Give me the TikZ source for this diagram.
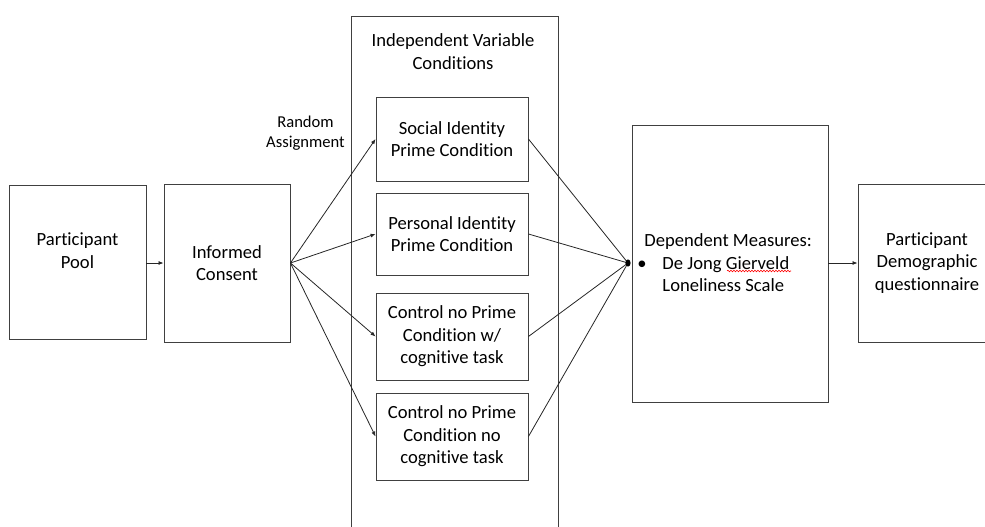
\documentclass[tikz,border=0pt]{standalone}
\usepackage{fontspec}
\setmainfont[Ligatures=NoCommon]{Carlito}
\usetikzlibrary{arrows.meta,decorations.pathmorphing}

\begin{document}
\begin{tikzpicture}[x=1pt,y=-1pt,
  box/.style={draw=black!75,line width=0.9pt,align=center,inner sep=0pt,font=\fontsize{18.6}{22.5}\selectfont},
  link/.style={black!85,line width=0.8pt},
  arr/.style={link,-{Latex[length=5pt,width=4pt]}}]
\clip (0,0) rectangle (985,527);
\pgfmathsetmacro{\condx}{452}
\pgfmathsetmacro{\condw}{152}
\node[box,minimum width=137,minimum height=154] (pool) at (77.5,262) {Participant\\Pool\\\mbox{}};
\node[box,minimum width=126,minimum height=158] (consent) at (227,263) {Informed\\Consent};
\draw[black!75,line width=0.9pt] (351,545) -- (351,16) -- (558,16) -- (558,545);
\node[box,draw=none] (ivtitle) at (453,51.5) {Independent Variable\\Conditions};
\node[box,draw=none,font=\fontsize{16.6}{20}\selectfont] (random) at (305.5,133) {Random\\Assignment};
\node[box,minimum width=\condw,minimum height=84] (social) at (\condx,139) {Social Identity\\Prime Condition};
\node[box,minimum width=\condw,minimum height=82] (personal) at (\condx,234) {Personal Identity\\Prime Condition};
\node[box,minimum width=\condw,minimum height=87] (ctrltask) at (\condx,336.5) {Control no Prime\\Condition w/\\cognitive task};
\node[box,minimum width=\condw,minimum height=87] (ctrlnotask) at (\condx,436.5) {Control no Prime\\Condition no\\cognitive task};
\node[box,minimum width=196,minimum height=277] (measures) at (730,263.5) {};
\node[box,draw=none,align=left,anchor=west] (measurestext) at (644,263) {Dependent Measures:\\\hspace*{-7pt}\makebox[25pt][l]{\textbullet}De Jong Gierveld\\\hspace*{18pt}Loneliness Scale};
\node[box,minimum width=138,minimum height=158] (demog) at (927,263) {Participant\\Demographic\\questionnaire};
\coordinate (join) at (628,263);
\draw[arr] (pool.east |- 0,263) -- (consent.west);
\foreach \c in {social,personal,ctrltask,ctrlnotask}
  \draw[arr] (consent.east) -- (\c.west);
\foreach \c in {social,personal,ctrltask,ctrlnotask}
  \draw[link] (\c.east) -- (join);
\fill[black] (join) ellipse (2.6 and 3.6);
\draw[arr] (measures.east |- 0,263) -- (demog.west);
\draw[red,line width=0.6pt,decorate,decoration={snake,segment length=3pt,amplitude=0.8pt}] (727,271) -- (791,271);
\end{tikzpicture}
\end{document}
